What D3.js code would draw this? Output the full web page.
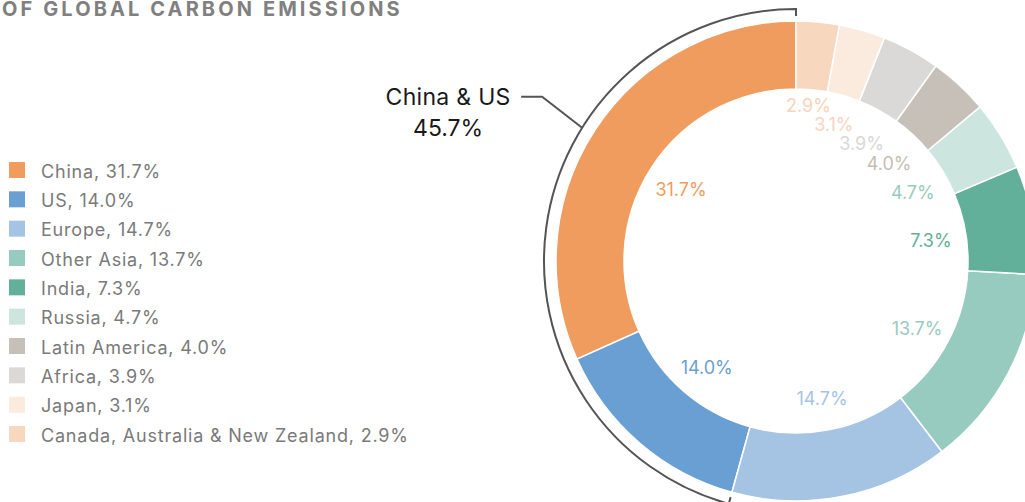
<!DOCTYPE html>
<html>
<head>
<meta charset="utf-8">
<script src="https://cdn.jsdelivr.net/npm/d3@7"></script>
<style>
  html, body { margin: 0; padding: 0; background: #fff; }
  svg { display: block; font-family: Inter, "Noto Sans", sans-serif; }
</style>
</head>
<body>
<svg id="chart" width="1025" height="502"></svg>
<script>
// ---- data ----
const regions = ["China", "US", "Europe", "Other Asia", "India", "Russia",
  "Latin America", "Africa", "Japan", "Canada, Australia & New Zealand"];
const shares = [31.7, 14.0, 14.7, 13.7, 7.3, 4.7, 4.0, 3.9, 3.1, 2.9];
const sliceColors = ["#EF9C5E", "#699FD2", "#A5C4E3", "#97CBC0", "#63B09A",
  "#CCE5DF", "#C7C0B9", "#DAD9D7", "#FBEBDF", "#F8D7BF"];
const labelColors = ["#EF9C5E", "#699FD2", "#A5C4E3", "#97CBC0", "#63B09A",
  "#97CBC0", "#C5BDB5", "#D9D8D6", "#F7D4C3", "#F8D3BA"];
const titleText = "OF GLOBAL CARBON EMISSIONS";
const calloutName = "China & US";
const calloutValue = "45.7%";
const calloutCount = 2; // China + US

// ---- layout ----
const svg = d3.select("#chart");
const cx = 796, cy = 261, R = 240, Ri = 172;
const fmt = d3.format(".1f");

svg.append("text")
  .attr("x", 2).attr("y", 16)
  .attr("fill", "#808080")
  .attr("font-size", 20).attr("font-weight", 700)
  .attr("letter-spacing", 3.1)
  .text(titleText);

// legend
const legY = d3.scaleLinear().domain([0, 9]).range([162, 426]);
const leg = svg.append("g").selectAll("g").data(regions).join("g")
  .attr("transform", (d, i) => `translate(9,${legY(i)})`);
leg.append("rect").attr("width", 16).attr("height", 16)
  .attr("fill", (d, i) => sliceColors[i]);
leg.append("text").attr("x", 32).attr("y", 15.5)
  .attr("font-size", 18).attr("fill", "#7a7a7a")
  .attr("letter-spacing", 0.8)
  .text((d, i) => `${d}, ${fmt(shares[i])}%`);

// donut
const pie = d3.pie().sort(null).startAngle(0).endAngle(-2 * Math.PI);
const arcs = pie(shares);
const arc = d3.arc().innerRadius(Ri).outerRadius(R);
const g = svg.append("g").attr("transform", `translate(${cx},${cy})`);
g.selectAll("path.slice").data(arcs).join("path")
  .attr("class", "slice")
  .attr("d", arc)
  .attr("fill", (d, i) => sliceColors[i])
  .attr("stroke", "#fff").attr("stroke-width", 1.5);

// inner labels at centroid angle, with simple vertical de-overlap on right side
const rl = 137;
const labs = arcs.map((a, i) => {
  const ang = (a.startAngle + a.endAngle) / 2;
  return { i, x: rl * Math.sin(ang), y: -rl * Math.cos(ang) + 3 };
});
const right = labs.filter(l => l.x > 0).sort((a, b) => b.y - a.y);
for (let k = 1; k < right.length; k++) {
  right[k].y = Math.min(right[k].y, right[k - 1].y - 19);
}
g.selectAll("text.val").data(labs).join("text")
  .attr("class", "val")
  .attr("x", d => d.x).attr("y", d => d.y)
  .attr("text-anchor", "middle").attr("dominant-baseline", "central")
  .attr("font-size", 18)
  .attr("fill", d => labelColors[d.i])
  .text(d => `${fmt(shares[d.i])}%`);

// bracket around China & US
const rb = 252, tick = 7;
const bStart = arcs[0].startAngle, bEnd = arcs[calloutCount - 1].endAngle;
const pt = (r, a) => [r * Math.sin(a), -r * Math.cos(a)];
const bracket = d3.path();
const s0 = pt(rb - tick, bStart), s1 = pt(rb, bStart);
bracket.moveTo(s0[0], s0[1]);
bracket.lineTo(s1[0], s1[1]);
bracket.arc(0, 0, rb, bStart - Math.PI / 2, bEnd - Math.PI / 2, true);
const e1 = pt(rb - tick, bEnd);
bracket.lineTo(e1[0], e1[1]);
g.append("path").attr("d", bracket.toString())
  .attr("fill", "none").attr("stroke", "#555").attr("stroke-width", 2);

// leader line
const la = bStart + (bEnd - bStart) * 0.353;
const p0 = pt(rb, la);
const elbow = [p0[0] - 40, p0[1] - 31];
const lend = [elbow[0] - 21, elbow[1]];
g.append("path")
  .attr("d", d3.line()([p0, elbow, lend]))
  .attr("fill", "none").attr("stroke", "#555").attr("stroke-width", 2);

const lx = lend[0] - 73;
g.append("text").attr("x", lx).attr("y", lend[1] + 8)
  .attr("text-anchor", "middle").attr("font-size", 23).attr("fill", "#1a1a1a")
  .attr("letter-spacing", 0.3)
  .text(calloutName);
g.append("text").attr("x", lx).attr("y", lend[1] + 39)
  .attr("text-anchor", "middle").attr("font-size", 23).attr("fill", "#1a1a1a")
  .text(calloutValue);
</script>
</body>
</html>
